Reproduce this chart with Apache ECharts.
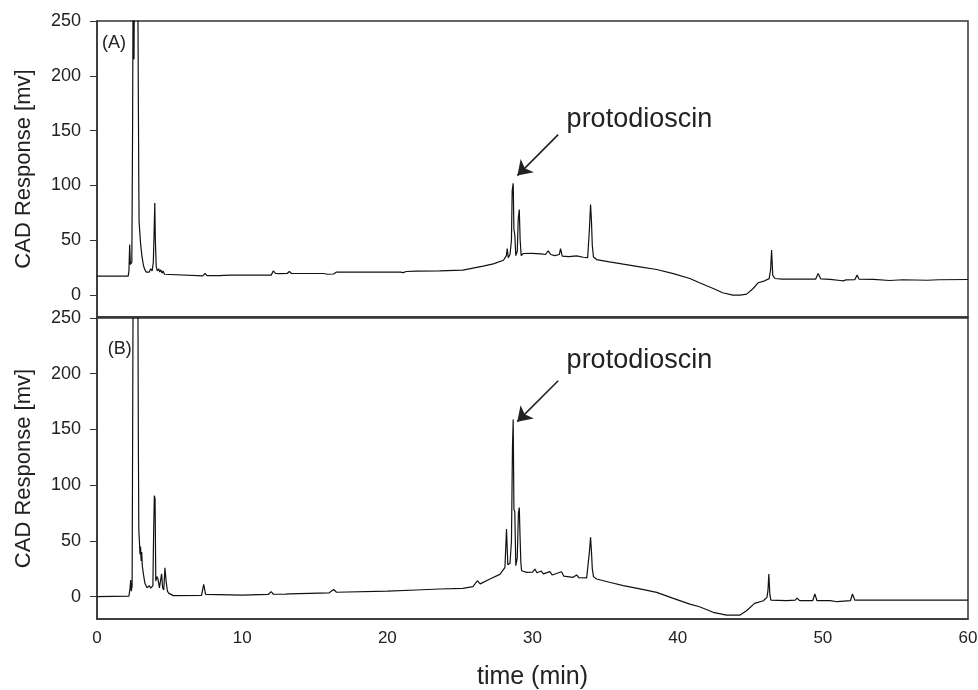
<!DOCTYPE html>
<html>
<head>
<meta charset="utf-8">
<script src="https://cdn.jsdelivr.net/npm/echarts@6/dist/echarts.min.js"></script>
<style>
  html, body { margin: 0; padding: 0; background: #ffffff; }
  #chart { width: 978px; height: 690px; }
</style>
</head>
<body>
<div id="chart"></div>
<script>
// Chromatogram (A): retention time [min] and CAD response [mV]
const timeA = [
  0, 2.15, 2.2, 2.25, 2.3, 2.4, 2.45, 2.5, 2.55, 2.58, 2.65, 2.75, 2.82, 2.85, 2.88, 2.9,
  3.0, 3.1, 3.2, 3.3, 3.4, 3.5, 3.6, 3.7, 3.8, 3.88, 3.93, 3.98, 4.02, 4.08, 4.15, 4.25,
  4.32, 4.4, 4.48, 4.55, 4.65, 4.75, 7.3, 7.44, 7.58, 8.5, 8.59, 8.72, 9.28, 12.0, 12.14,
  12.3, 12.6, 13.1, 13.25, 13.4, 15.6, 15.9, 16.3, 16.5, 20.9, 21.1, 21.3, 22.0, 23.6,
  25.2, 26.6, 27.3, 28.0, 28.2, 28.26, 28.33, 28.45, 28.55, 28.6, 28.67, 28.72, 28.78,
  28.85, 28.95, 29.02, 29.09, 29.15, 29.22, 29.36, 29.95, 30.6, 30.9, 31.08, 31.25, 31.54,
  31.85, 31.93, 32.05, 32.5, 33.04, 33.5, 33.8, 33.92, 34.0, 34.06, 34.12, 34.2, 34.41,
  35.3, 36.25, 37.4, 38.55, 39.7, 40.84, 41.5, 42.45, 43.1, 43.8, 44.3, 44.75, 45.2,
  45.54, 46.0, 46.3, 46.4, 46.47, 46.55, 46.7, 47.2, 47.85, 47.96, 48.1, 48.3, 48.4, 48.55,
  49.5, 49.68, 49.85, 50.5, 51.2, 51.4, 51.6, 52.2, 52.36, 52.5, 53.5, 54.6, 55.5, 57.2,
  58.0, 60.0
];
const respA = [
  17.3, 17.3, 22, 46, 28, 30, 150, 330, 215, 300, 400, 350, 260, 176, 100, 67,
  47, 35, 27, 23, 21, 22, 21, 24, 22, 30, 55, 84, 50, 26, 22, 24,
  21, 23, 20, 22, 19, 17.5, 17.5, 19.7, 17.8, 17.8, 19.5, 18, 18.2, 18.2, 22,
  19.8, 19.5, 19.7, 21.5, 19.7, 19.7, 19, 19.2, 21, 21, 20.5, 21.5, 21.8, 22,
  22.7, 26.4, 28.5, 31.8, 36, 42.4, 34, 37, 50, 95, 102, 60, 55,
  36, 40, 70, 78, 50, 36, 37.9, 38, 37.6, 37, 40.3, 37, 36,
  37, 42.4, 35.5, 35, 35.8, 34.5, 34.2, 60, 82.7, 68, 45, 34.8, 32.4,
  30.3, 28.2, 25.8, 23.3, 19.5, 15.1, 11.2, 6, 2.1, 0, 0, 0.9, 6,
  11.2, 13, 15, 22.7, 41, 18, 15.1, 14.5, 14.5, 16, 14.5, 14.5, 16, 14.5,
  14.5, 19.7, 14.8, 14.3, 13.3, 13, 13.8, 14, 18.2, 14.5, 14.3, 13.3, 14, 13.5,
  14, 14.2
];

// Chromatogram (B)
const timeB = [
  0, 2.2, 2.28, 2.32, 2.36, 2.42, 2.46, 2.5, 2.6, 2.75, 2.82, 2.85, 2.88, 2.92, 2.96,
  3.0, 3.04, 3.08, 3.12, 3.2, 3.3, 3.45, 3.6, 3.7, 3.85, 3.9, 3.95, 4.0, 4.05, 4.12,
  4.2, 4.3, 4.4, 4.45, 4.52, 4.6, 4.68, 4.76, 4.85, 4.95, 5.26, 7.2, 7.35, 7.48, 10.0,
  11.8, 12.0, 12.15, 13.0, 13.1, 13.25, 16.0, 16.3, 16.5, 20.0, 22.0, 23.6, 25.2, 25.9,
  26.2, 26.4, 27.07, 27.75, 28.1, 28.21, 28.3, 28.45, 28.55, 28.62, 28.67, 28.72, 28.78,
  28.85, 28.95, 29.03, 29.09, 29.14, 29.2, 29.25, 29.6, 30.0, 30.17, 30.3, 30.6, 30.75,
  31.2, 31.35, 32.0, 32.15, 32.8, 33.04, 33.2, 33.73, 33.92, 34.0, 34.06, 34.12, 34.2,
  34.41, 35.3, 36.25, 37.4, 38.55, 39.7, 40.84, 41.5, 42.45, 43.37, 44.3, 44.74, 45.3,
  45.9, 46.15, 46.22, 46.28, 46.35, 46.42, 47.5, 48.1, 48.23, 48.4, 49.3, 49.45, 49.6,
  50.5, 51.0, 51.1, 51.9, 52.04, 52.2, 60.0
];
const respB = [
  0, 0.5, 8, 15, 5, 10, 165, 330, 400, 380, 260, 137, 60, 50, 38,
  45, 32, 40, 28, 20, 12, 8, 10, 7.6, 10, 56, 90.6, 88, 14, 18,
  16, 8, 9, 20.6, 8, 6, 26, 14, 5, 3, 1, 1.2, 11, 2, 1.5,
  2, 4.5, 2.2, 2.4, 4, 2.6, 3.5, 6.5, 4, 5, 6, 6.9, 7.5, 9,
  14.3, 11.5, 15.9, 20, 26, 60.7, 28.7, 30, 50, 134, 159, 78.6, 76,
  27.8, 35, 75, 80, 55, 30, 23.3, 21.8, 22, 24.8, 21.5, 23, 20.5,
  22.5, 19.5, 22.4, 18.5, 17.4, 19.5, 17, 16.9, 40, 53.2, 41, 25, 18,
  15.9, 13, 9.9, 7, 3.9, -1.5, -6.6, -9, -14, -16.5, -16.5, -12.6, -6,
  -3.6, -0.6, 5.4, 20.3, 2, -3, -3.6, -3, -1.2, -3.6, -3.6, 2.4, -3.6,
  -3.6, -4.5, -3.6, -3.6, 2.4, -3, -3
];

// Axis ticks
const timeTicks = [0, 10, 20, 30, 40, 50, 60];
const respTicks = [0, 50, 100, 150, 200, 250];

// Annotations
const panelTags = ['(A)', '(B)'];
const tagPos = [[0.34, 230], [0.74, 222]];
const peakName = 'protodioscin';
const peakLabelPos = [[32.35, 160], [32.35, 212]];
const arrowFrom = [[31.77, 146.4], [31.77, 193.7]];
const arrowTo = [[28.96, 109], [28.95, 157]];

const textColor = '#222';
const frameColor = '#333';
const sans = '"Liberation Sans", Arial, sans-serif';

const zip = (t, v) => t.map((x, i) => [x, v[i]]);

function yAxisFor(gridIndex) {
  return {
    type: 'value', gridIndex, min: -20, max: 250,
    name: 'CAD Response [mv]', nameLocation: 'middle', nameGap: 62, nameRotate: 90,
    nameTextStyle: { color: textColor, fontSize: 22, fontFamily: sans },
    axisLine: { show: true, onZero: false, lineStyle: { color: frameColor, width: 1.5 } },
    axisTick: { show: true, inside: false, length: 7, customValues: respTicks,
      lineStyle: { color: frameColor, width: 1 } },
    axisLabel: { show: true, customValues: respTicks, margin: 16,
      color: textColor, fontSize: 18, fontFamily: sans },
    splitLine: { show: false }
  };
}

function xAxisFor(gridIndex, withLabels) {
  return {
    type: 'value', gridIndex, min: 0, max: 60, interval: 10,
    name: withLabels ? 'time (min)' : '', nameLocation: 'middle', nameGap: 46,
    nameTextStyle: { color: textColor, fontSize: 25, fontFamily: sans },
    axisLine: { show: true, onZero: false, lineStyle: { color: frameColor, width: 1.5 } },
    axisTick: { show: false },
    axisLabel: { show: withLabels, margin: 11, color: textColor, fontSize: 17, fontFamily: sans },
    splitLine: { show: false }
  };
}

function traceSeries(idx, t, v) {
  return {
    type: 'line', xAxisIndex: idx, yAxisIndex: idx,
    data: zip(t, v), showSymbol: false, symbol: 'none', clip: true,
    lineStyle: { color: '#111', width: 1.2 },
    silent: true, animation: false,
    markLine: {
      silent: true, animation: false,
      symbol: ['none', 'arrow'], symbolSize: 14,
      lineStyle: { color: textColor, width: 1.6, type: 'solid' },
      label: { show: false },
      data: [[{ coord: arrowFrom[idx] }, { coord: arrowTo[idx] }]]
    },
    markPoint: {
      silent: true, animation: false, symbol: 'circle', symbolSize: 0,
      data: [
        { coord: peakLabelPos[idx],
          label: { show: true, formatter: peakName, position: 'right', distance: 0,
            color: textColor, fontSize: 27, fontFamily: sans } },
        { coord: tagPos[idx],
          label: { show: true, formatter: panelTags[idx], position: 'right', distance: 0,
            color: textColor, fontSize: 18, fontFamily: sans } }
      ]
    }
  };
}

const chart = echarts.init(document.getElementById('chart'), null, { renderer: 'canvas' });
const gridBase = { left: 97, right: 10, show: true, borderColor: frameColor, borderWidth: 1.5,
  containLabel: false, outerBoundsMode: 'none' };
chart.setOption({
  animation: false,
  backgroundColor: '#ffffff',
  grid: [
    Object.assign({ top: 21, height: 296 }, gridBase),
    Object.assign({ top: 318, height: 301 }, gridBase)
  ],
  xAxis: [xAxisFor(0, false), xAxisFor(1, true)],
  yAxis: [yAxisFor(0), yAxisFor(1)],
  series: [traceSeries(0, timeA, respA), traceSeries(1, timeB, respB)]
});
</script>
</body>
</html>
